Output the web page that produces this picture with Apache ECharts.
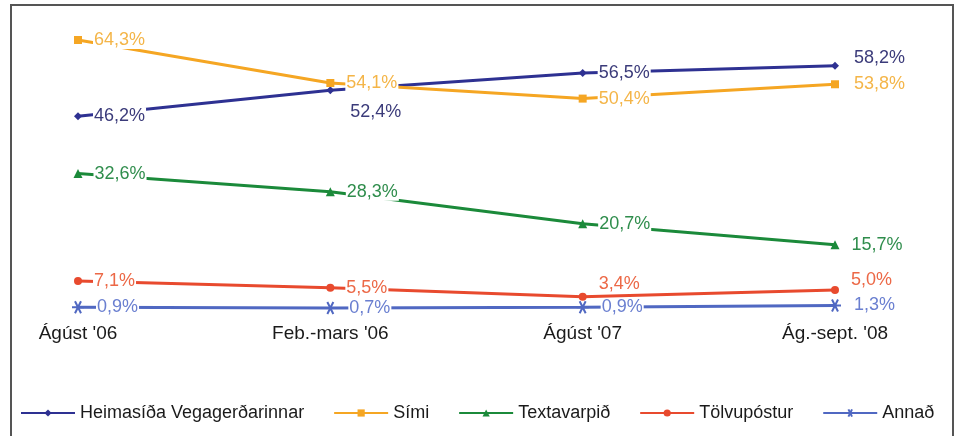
<!DOCTYPE html>
<html>
<head>
<meta charset="utf-8">
<script src="https://cdn.jsdelivr.net/npm/echarts@6/dist/echarts.min.js"></script>
<style>
  html, body { margin: 0; padding: 0; background: #fff; }
  #chart { width: 959px; height: 436px; }
</style>
</head>
<body>
<div id="chart"></div>
<script>
// gögn lesin af myndinni
const categories = ['Ágúst \'06', 'Feb.-mars \'06', 'Ágúst \'07', 'Ág.-sept. \'08']
const seriesNames = ['Heimasíða Vegagerðarinnar', 'Sími', 'Textavarpið', 'Tölvupóstur', 'Annað']
const heimasida = [46.2, 52.4, 56.5, 58.2]
const simi = [64.3, 54.1, 50.4, 53.8]
const textavarpid = [32.6, 28.3, 20.7, 15.7]
const tolvupostur = [7.1, 5.5, 3.4, 5.0]
const annad = [0.9, 0.7, 0.9, 1.3]

const FONT = '"Liberation Sans", Arial, sans-serif'
const asterisk = 'path://M-10,0L10,0M-5,-8.66L5,8.66M-5,8.66L5,-8.66'

// merkimiðar sem eru ekki beint til hægri
const labelFix = {
  0: { 1: { offset: [4, 22] }, 3: { offset: [3, -8] } },
  1: { 3: { offset: [3, 0] } },
  3: { 2: { offset: [0, -13] }, 3: { offset: [0, -10] } }
}

function fmt(v) {
  return v.toFixed(1).replace('.', ',') + '%'
}

function makeSeries(idx, values, color, textColor, symbol, size, extra) {
  return Object.assign({
    name: seriesNames[idx],
    type: 'line',
    symbol: symbol,
    symbolSize: size,
    lineStyle: { color: color, width: 3 },
    itemStyle: { color: color },
    data: values.map((v, i) => {
      const fix = labelFix[idx] && labelFix[idx][i]
      return fix ? { value: v, label: fix } : v
    }),
    label: {
      show: true,
      position: 'right',
      distance: 11,
      color: textColor,
      fontFamily: FONT,
      fontSize: 18,
      backgroundColor: '#fff',
      padding: [0, 1],
      formatter: p => fmt(p.value)
    },
    animation: false
  }, extra || {})
}

const chart = echarts.init(document.getElementById('chart'))
chart.setOption({
  backgroundColor: '#fff',
  graphic: [{
    type: 'rect',
    shape: { x: 11, y: 5, width: 942, height: 445 },
    style: { fill: 'none', stroke: '#555', lineWidth: 2 },
    silent: true
  }],
  grid: { left: 78, right: 124, top: 16, bottom: 125 },
  xAxis: {
    type: 'category',
    data: categories,
    boundaryGap: false,
    axisLine: { show: false },
    axisTick: { show: false },
    splitLine: { show: false },
    axisLabel: { color: '#1a1a1a', fontFamily: FONT, fontSize: 19, margin: 13 }
  },
  yAxis: {
    type: 'value',
    min: 0,
    max: 70,
    show: false
  },
  legend: {
    data: seriesNames,
    left: 15,
    top: 399,
    width: 940,
    itemWidth: 54,
    itemHeight: 9,
    itemGap: 29,
    textStyle: { color: '#1a1a1a', fontFamily: FONT, fontSize: 18 }
  },
  series: [
    makeSeries(0, heimasida, '#2e3192', '#3b3b7a', 'diamond', 8),
    makeSeries(1, simi, '#f5a623', '#f4b548', 'rect', 8),
    makeSeries(2, textavarpid, '#1b8a3a', '#2f8d4c', 'triangle', 9),
    makeSeries(3, tolvupostur, '#e84a2e', '#ec6846', 'circle', 8),
    makeSeries(4, annad, '#5068c2', '#6a7fd0', asterisk, 12, {
      itemStyle: { color: '#5068c2', borderColor: '#5068c2', borderWidth: 2 }
    })
  ]
})
</script>
</body>
</html>
